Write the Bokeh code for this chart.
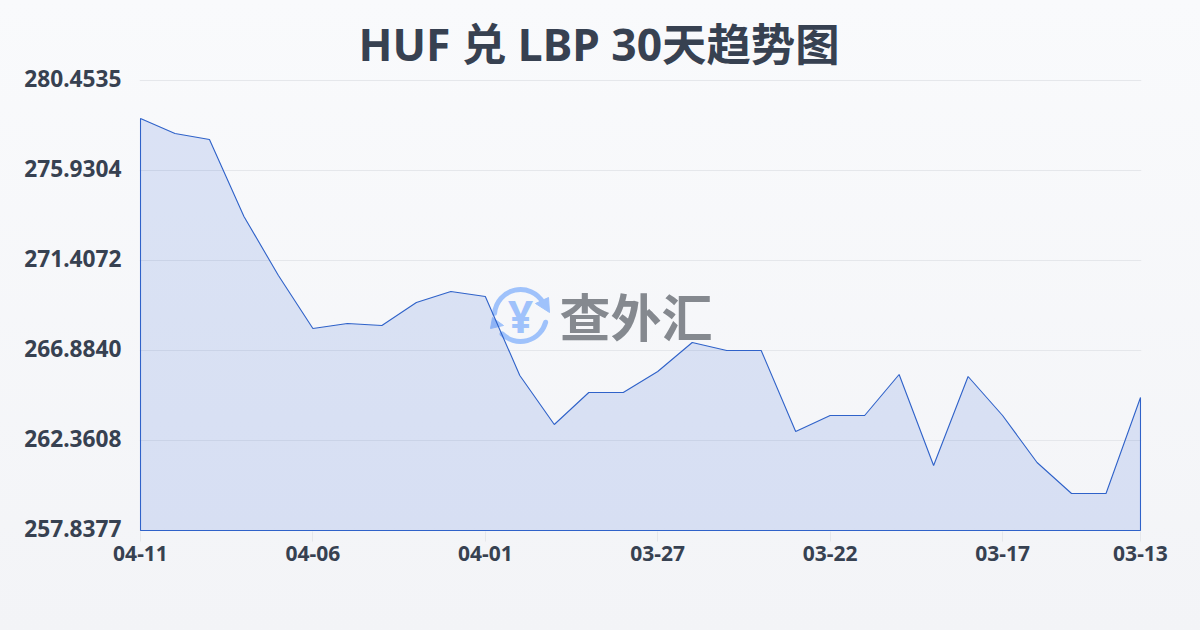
from bokeh.plotting import figure
from bokeh.models import Range1d, FixedTicker, LinearAxis
from bokeh.core.properties import value
from bokeh.embed import file_html
from bokeh.resources import INLINE

title = "HUF 兑 LBP 30天趋势图"
day_index = list(range(30))
rates = [278.544, 277.790, 277.488, 273.619, 270.653, 267.990, 268.241, 268.141, 269.296, 269.849,
         269.598, 265.628, 263.165, 264.773, 264.773, 265.829, 267.286, 266.884, 266.884, 262.813,
         263.617, 263.617, 265.678, 261.105, 265.577, 263.617, 261.255, 259.697, 259.697, 264.522]
y_ticks = [257.8377, 262.3608, 266.8840, 271.4072, 275.9304, 280.4535]
y_tick_labels = ["257.8377", "262.3608", "266.8840", "271.4072", "275.9304", "280.4535"]
x_ticks = [0, 5, 10, 15, 20, 25, 29]
x_tick_labels = ["04-11", "04-06", "04-01", "03-27", "03-22", "03-17", "03-13"]

INK = "#374151"
LATIN = "Noto Sans, Noto Sans CJK SC"
LOGO = "#9fc2fb"
WORD = "#85898f"
LINE = "#2f62c9"

# one pixel in data units on each axis; the ranges overshoot a little so nothing is clipped
dx = (x_ticks[-1] - x_ticks[0]) / 1000
dy = (y_ticks[-1] - y_ticks[0]) / 450

p = figure(width=1200, height=630, output_backend="svg", toolbar_location=None, title=title,
           x_range=Range1d(x_ticks[0] - dx, x_ticks[-1] + dx),
           y_range=Range1d(y_ticks[0] - dy, y_ticks[-1] + 3 * dy),
           min_border_left=139, min_border_right=59, min_border_top=77, min_border_bottom=99)
p.frame_width = 1002
p.frame_height = 454
p.background_fill_color = None
p.border_fill_color = None
p.outline_line_color = None

p.title.align = "left"
p.title.offset = 219
p.title.standoff = 8
p.title.text_font = LATIN
p.title.text_font_style = "bold"
p.title.text_font_size = "44.4px"
p.title.text_color = INK

p.yaxis.visible = False
p.ygrid.ticker = FixedTicker(ticks=y_ticks)
p.ygrid.grid_line_color = "#e5e7eb"
p.ygrid.grid_line_width = 1
p.xgrid.visible = False

# labels sit 2px above their gridlines, so the visible y axis has a range shifted by 2px
p.extra_y_ranges["labels"] = Range1d(y_ticks[0] - 3 * dy, y_ticks[-1] + dy)
yax = LinearAxis(y_range_name="labels", ticker=FixedTicker(ticks=y_ticks),
                 major_label_overrides=dict(zip(y_ticks, y_tick_labels)))
p.add_layout(yax, "left")

p.xaxis.ticker = FixedTicker(ticks=x_ticks)
p.xaxis.major_label_overrides = dict(zip(x_ticks, x_tick_labels))
for ax in (p.xaxis[0], yax):
    ax.axis_line_color = None
    ax.minor_tick_line_color = None
    ax.major_label_text_color = INK
    ax.major_label_text_font = LATIN
    ax.major_label_text_font_style = "bold"
p.xaxis.major_label_text_font_size = "21px"
yax.major_label_text_font_size = "22.7px"
p.xaxis.major_tick_line_color = "#e5e7eb"
p.xaxis.major_tick_in = 0
p.xaxis.major_tick_out = 10
p.xaxis.major_label_standoff = 4
yax.major_tick_line_color = None
yax.major_tick_in = 0
yax.major_tick_out = 0
yax.major_label_standoff = 18

# watermark, placed in page pixels through an extra pair of ranges (y measured upward)
p.extra_x_ranges["px"] = Range1d(139, 1141)
p.extra_y_ranges["px"] = Range1d(99, 553)
kw = dict(x_range_name="px", y_range_name="px")
cy = 630 - 315
p.arc(x=[520], y=[cy], radius=26, start_angle=30, end_angle=175, start_angle_units="deg", end_angle_units="deg",
      line_color=LOGO, line_width=5, line_cap="round", **kw)
p.arc(x=[520], y=[cy], radius=26, start_angle=225, end_angle=345, start_angle_units="deg", end_angle_units="deg",
      line_color=LOGO, line_width=5, line_cap="round", **kw)
p.patch(x=[535, 548, 549], y=[630 - 303, 630 - 297, 630 - 312], color=LOGO, **kw)
p.patch(x=[490, 492, 503], y=[630 - 328, 630 - 317, 630 - 325], color=LOGO, **kw)
p.text(x=[520], y=[cy], text=["¥"], text_font=value("Noto Sans"), text_font_style="bold",
       text_font_size="44px", text_color=LOGO, text_align="center", text_baseline="middle", **kw)
p.text(x=[559], y=[630 - 314], text=["查外汇"], text_font=value("Noto Sans CJK SC"), text_font_style="bold",
       text_font_size="51px", text_color=WORD, text_align="left", text_baseline="middle", **kw)

# area and its outline
xs = day_index + [day_index[-1], day_index[0]]
ys = rates + [y_ticks[0], y_ticks[0]]
p.patch(x=xs, y=ys, fill_color="#2a5bd7", fill_alpha=0.14, line_color=LINE, line_width=1.1)

html = file_html(p, INLINE)
html = html.replace("</head>", "<style>html{height:630px;background:linear-gradient(180deg,#f9fafc 0%,#f3f4f7 100%);}"
                    "body{background:transparent;}</style></head>", 1)
open("out.html", "w").write(html)
